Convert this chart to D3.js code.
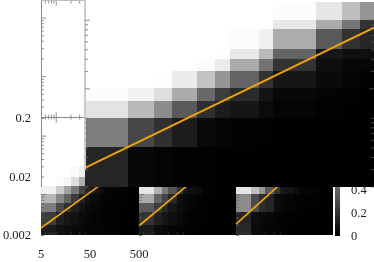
<!DOCTYPE html>
<html><head><meta charset="utf-8">
<script src="https://cdnjs.cloudflare.com/ajax/libs/d3/7.8.5/d3.min.js"></script>
<style>html,body{margin:0;padding:0;background:#fff}svg{display:block;filter:blur(0.35px)}text{font-family:"Liberation Serif",serif;font-size:12.5px;fill:#222}</style>
</head><body><svg id="c" width="374" height="262"></svg>
<script>
const xBins=[5,10,15,20,30,40,50,80,100,200,300,400,500];
const yBinsMain=[0.02,0.05,0.1,0.15,0.2,0.3,0.4,0.5,0.8,1,1.5];
const valuesMain=[
[.145,.03,.02,.012,.008,.004,.004,0,0,0,0,0],
[.49,.28,.19,.11,.035,.02,.012,.008,.004,0,0,0],
[.89,.73,.55,.35,.18,.11,.085,.045,.02,.008,.004,0],
[.99,.95,.87,.67,.41,.24,.165,.08,.03,.015,.008,.004],
[1,1,.995,.92,.76,.59,.39,.2,.085,.04,.015,.008],
[1,1,1,1,.99,.92,.67,.45,.2,.06,.03,.03],
[1,1,1,1,1,.995,.91,.725,.39,.085,.06,.06],
[1,1,1,1,1,1,.99,.94,.675,.35,.195,.15],
[1,1,1,1,1,1,1,1,.91,.67,.46,.195],
[1,1,1,1,1,1,1,1,.99,.9,.745,.59]];
const yBinsA=[0.002,0.003,0.005,0.007,0.01,0.014,0.02,0.03];
const valuesA=[
[.11,.07,.05,.04,.03,.02,.015,.012,.008,.004,.004,0],
[.235,.125,.085,.065,.04,.03,.02,.012,.008,.004,.004,0],
[.49,.29,.19,.12,.07,.04,.03,.015,.008,.004,.004,0],
[.71,.53,.39,.235,.135,.07,.04,.025,.012,.008,.004,.004],
[.94,.8,.63,.47,.27,.15,.08,.04,.02,.012,.004,.004],
[1,.99,.96,.87,.69,.3,.2,.1,.05,.03,.01,.01],
[1,1,1,.98,.94,.6,.4,.2,.1,.05,.02,.02]];
const yBinsB=[0.002,0.003,0.005,0.007,0.01,0.014];
const valuesB=[
[.1,.05,.03,.02,.012,.008,.004,.004,0,0,0,0],
[.2,.12,.085,.06,.03,.02,.012,.008,.004,0,0,0],
[.35,.235,.14,.085,.05,.03,.02,.01,.004,0,0,0],
[.67,.39,.27,.16,.06,.03,.02,.012,.004,0,0,0],
[.9,.69,.47,.33,.18,.08,.06,.04,.012,.004,.004,0]];
const yBinsC=[0.002,0.003,0.005,0.01,0.014];
const valuesC=[
[.16,.045,.03,.02,.012,.008,.004,.004,0,0,0,0],
[.14,.05,.04,.03,.02,.012,.008,.004,0,0,0,0],
[.55,.29,.18,.14,.05,.03,.02,.012,.008,.004,0,0],
[.9,.75,.59,.35,.2,.1,.08,.05,.02,.01,.004,0]];
const lineMain=[[5,0.031],[500,0.83]];
const lineA=[[5,0.00264],[72.7,0.0134]];
const lineB=[[5,0.00288],[46.5,0.0134]];
const lineC=[[5,0.00308],[36,0.0134]];
const xTickLabels=["5","50","500"];
const yTickLabels=["0.2","0.02","0.002"];
const cbTicks=[0,0.2,0.4];
const logTicks=(a,b)=>d3.scaleLog().domain([a,b]).ticks().filter(v=>v>=a&&v<=b);

const svg=d3.select("#c");
const color=d3.scaleLinear().domain([0,1]).range(["#000","#fff"]);
const ORANGE="#f0a30a";

function cells(g,x,y,xs,ys,vals){
  vals.forEach((row,r)=>row.forEach((v,c)=>{
    g.append("rect").attr("x",x(xs[c])).attr("y",y(ys[r+1]))
     .attr("width",x(xs[c+1])-x(xs[c])).attr("height",y(ys[r])-y(ys[r+1]))
     .attr("fill",color(v)).attr("shape-rendering","crispEdges");
  }));
}
function line(g,x,y,pts,w){
  g.append("path").attr("d",d3.line().x(d=>x(d[0])).y(d=>y(d[1]))(pts))
   .attr("fill","none").attr("stroke",ORANGE).attr("stroke-width",w);
}
function yTicks(g,y,values,xpos,dir,stroke,majors){
  const a=g.append("g").attr("transform",`translate(${xpos},0)`)
    .call(d3.axisRight(y).tickValues(values).tickFormat("").tickSizeOuter(0));
  a.select(".domain").remove();
  a.selectAll("line").attr("stroke",stroke).attr("stroke-width",0.8).attr("x1",0)
   .attr("x2",d=>(majors.some(m=>Math.abs(m/d-1)<1e-6)?5:3)*dir);
}

const px=[41,139,236], pw=[98,97,97];
const yLow=d3.scaleLog().domain([0.002,0.2]).range([235,118]);
const lowTicks=logTicks(0.002,0.2), lowMajors=[0.1,0.01];
[{v:valuesA,ys:yBinsA,l:lineA},{v:valuesB,ys:yBinsB,l:lineB},{v:valuesC,ys:yBinsC,l:lineC}].forEach((p,i)=>{
  const x=d3.scaleLog().domain([5,500]).range([px[i],px[i]+pw[i]]);
  const g=svg.append("g");
  cells(g,x,yLow,xBins,p.ys,p.v);
  line(g,x,yLow,p.l,1.7);
  yTicks(g,yLow,lowTicks,px[i],1,"#666",lowMajors);
  const a=g.append("g").attr("transform","translate(0,235)")
    .call(d3.axisBottom(x).tickValues(logTicks(5,40)).tickFormat("").tickSizeOuter(0));
  a.select(".domain").remove();
  a.selectAll("line").attr("stroke","#333").attr("stroke-width",0.8)
   .attr("y1",0).attr("y2",-3);
});

// upper-left empty panel
const xA=d3.scaleLog().domain([5,500]).range([41,139]);
const yUp=d3.scaleLog().domain([0.002,0.2]).range([117,0]);
const up=svg.append("g");
yTicks(up,yUp,lowTicks,41,1,"#777",lowMajors);
[0.5,117.5].forEach(yy=>{
  const a=up.append("g").attr("transform",`translate(0,${yy})`)
    .call(d3.axisBottom(xA).tickValues(logTicks(5,40)).tickFormat("").tickSizeOuter(0));
  a.select(".domain").remove();
  a.selectAll("line").attr("stroke","#777").attr("stroke-width",0.8)
    .attr("y1",d=>yy<50?0:(d===10?5:2)).attr("y2",d=>{const s=d===10?5:3;return yy<50?s:-s;});
});
up.append("line").attr("x1",41).attr("x2",85).attr("y1",117.5).attr("y2",117.5).attr("stroke","#888");
up.append("line").attr("x1",41.5).attr("x2",41.5).attr("y1",0).attr("y2",187).attr("stroke","#888");
up.append("line").attr("x1",41).attr("x2",85).attr("y1",0.5).attr("y2",0.5).attr("stroke","#bbb");

// main overlay panel
const xMain=d3.scaleLog().domain([5,500]).range([85,374]);
const yMain=d3.scaleLog().domain([0.02,1.57]).range([186.5,0.5]);
const mainTicks=logTicks(0.02,1.5);
const main=svg.append("g");
main.append("rect").attr("x",85).attr("y",0).attr("width",289).attr("height",187).attr("fill","#fff");
cells(main,xMain,yMain,xBins,yBinsMain,valuesMain);
line(main,xMain,yMain,lineMain,1.9);
main.append("line").attr("x1",85).attr("x2",85).attr("y1",0).attr("y2",170).attr("stroke","#ccc").attr("stroke-width",2);
yTicks(main,yMain,mainTicks,85,1,"#777",[0.2,1]);
yTicks(main,yMain,mainTicks,374,-1,"#555",[0.2,1]);

// colour bar, under the main panel
const yCb=d3.scaleLinear().domain([0,0.43]).range([235,186]);
const cb=svg.append("g");
d3.range(0,0.43,0.01).forEach(v=>{
  cb.append("rect").attr("x",335).attr("width",5).attr("y",yCb(v+0.01)).attr("height",yCb(v)-yCb(v+0.01)+0.5)
    .attr("fill",color(v)).attr("shape-rendering","crispEdges");
});
cb.lower();

// labels
svg.selectAll(".xl").data(xTickLabels).join("text").attr("class","xl")
  .attr("x",d=>xA(+d)).attr("y",258).attr("text-anchor","middle").text(d=>d);
svg.selectAll(".yl").data(yTickLabels).join("text").attr("class","yl")
  .attr("x",31).attr("y",d=>yLow(+d)+4).attr("text-anchor","end").text(d=>d);
const cbl=svg.append("g");
cbl.selectAll("text").data(cbTicks).join("text").attr("x",351)
  .attr("y",d=>yCb(d)+4.5).text(d=>d);
cbl.lower();
</script></body></html>
